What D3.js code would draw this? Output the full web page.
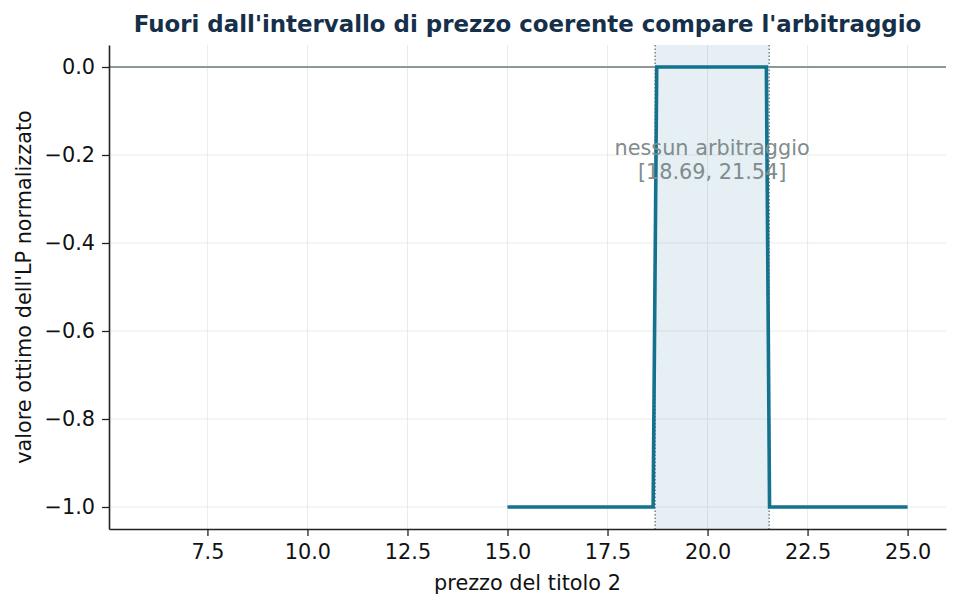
<!DOCTYPE html>
<html>
<head>
<meta charset="utf-8">
<script src="https://cdn.jsdelivr.net/npm/d3@7"></script>
<style>
  body { margin: 0; background: #fff; }
  svg { font-family: "DejaVu Sans", sans-serif; }
</style>
</head>
<body>
<svg id="chart" width="960" height="608"></svg>
<script>
// prices of security 2 and the LP optimum sampled along them
const priceX = [15.0, 18.64, 18.73, 21.47, 21.55, 25.0];
const lpValue = [-1, -1, 0, 0, -1, -1];
const noArbBounds = [18.69, 21.54];
const xTicks = [7.5, 10.0, 12.5, 15.0, 17.5, 20.0, 22.5, 25.0];
const yTicks = [0.0, -0.2, -0.4, -0.6, -0.8, -1.0];

const width = 960, height = 608;
const margin = { top: 45, right: 14, bottom: 79, left: 109 };
const fontSize = '20.8px';

const svg = d3.select('#chart');

const x = d3.scaleLinear()
    .domain([5.04, 25.96])
    .range([margin.left, width - margin.right]);

const y = d3.scaleLinear()
    .domain([-1.05, 0.05])
    .range([height - margin.bottom, margin.top]);

// Grid
const grid = svg.append('g');
grid.selectAll('.gx')
    .data(xTicks)
    .enter().append('line')
    .attr('x1', d => x(d)).attr('x2', d => x(d))
    .attr('y1', margin.top).attr('y2', height - margin.bottom)
    .style('stroke', '#e6e6e6').style('stroke-width', 0.8);
grid.selectAll('.gy')
    .data(yTicks)
    .enter().append('line')
    .attr('x1', margin.left).attr('x2', width - margin.right)
    .attr('y1', d => y(d)).attr('y2', d => y(d))
    .style('stroke', '#e6e6e6').style('stroke-width', 0.8);

// No-arbitrage band
svg.append('rect')
    .attr('x', x(noArbBounds[0]))
    .attr('y', margin.top)
    .attr('width', x(noArbBounds[1]) - x(noArbBounds[0]))
    .attr('height', height - margin.bottom - margin.top)
    .style('fill', '#1a7090')
    .style('fill-opacity', 0.11);

svg.selectAll('.bound')
    .data(noArbBounds)
    .enter().append('line')
    .attr('x1', d => x(d)).attr('x2', d => x(d))
    .attr('y1', margin.top).attr('y2', height - margin.bottom)
    .style('stroke', '#6b7b80')
    .style('stroke-width', 1.4)
    .style('stroke-dasharray', '1.5,2');

// Zero line
svg.append('line')
    .attr('x1', margin.left).attr('x2', width - margin.right)
    .attr('y1', y(0)).attr('y2', y(0))
    .style('stroke', '#8c9899')
    .style('stroke-width', 1.8);

// LP value line
const line = d3.line()
    .x((d, i) => x(priceX[i]))
    .y(d => y(d));

svg.append('path')
    .datum(lpValue)
    .attr('d', line)
    .style('fill', 'none')
    .style('stroke', '#15728f')
    .style('stroke-width', 3.6);

// Annotation
const mid = (noArbBounds[0] + noArbBounds[1]) / 2;
const note = svg.append('text')
    .attr('x', x(mid))
    .attr('y', 155)
    .style('text-anchor', 'middle')
    .style('font-size', fontSize)
    .style('fill', '#7f8c8d');
note.append('tspan').attr('x', x(mid)).text('nessun arbitraggio');
note.append('tspan').attr('x', x(mid)).attr('dy', 23.5)
    .text(`[${noArbBounds[0].toFixed(2)}, ${noArbBounds[1].toFixed(2)}]`);

// Axes
const xAxis = svg.append('g')
    .attr('transform', `translate(0,${height - margin.bottom})`)
    .call(d3.axisBottom(x).tickValues(xTicks).tickFormat(d3.format('.1f'))
        .tickSizeInner(7).tickSizeOuter(0).tickPadding(8));

const yAxis = svg.append('g')
    .attr('transform', `translate(${margin.left},0)`)
    .call(d3.axisLeft(y).tickValues(yTicks).tickFormat(d3.format('.1f'))
        .tickSizeInner(7).tickSizeOuter(0).tickPadding(7));

[xAxis, yAxis].forEach(a => {
    a.attr('font-size', null).attr('font-family', null);
    a.select('.domain').style('stroke', '#222').style('stroke-width', 1.6);
    a.selectAll('.tick line').style('stroke', '#222').style('stroke-width', 1.3);
    a.selectAll('.tick text')
        .style('font-family', '"DejaVu Sans", sans-serif')
        .style('font-size', fontSize)
        .style('fill', '#111');
});

// Labels
svg.append('text')
    .attr('x', (margin.left + width - margin.right) / 2)
    .attr('y', 590)
    .style('text-anchor', 'middle')
    .style('font-size', fontSize)
    .style('fill', '#111')
    .text('prezzo del titolo 2');

svg.append('text')
    .attr('transform', `translate(31,${(margin.top + height - margin.bottom) / 2}) rotate(-90)`)
    .style('text-anchor', 'middle')
    .style('font-size', fontSize)
    .style('fill', '#111')
    .text("valore ottimo dell'LP normalizzato");

svg.append('text')
    .attr('x', (margin.left + width - margin.right) / 2)
    .attr('y', 32)
    .style('text-anchor', 'middle')
    .style('font-size', '22.9px')
    .style('font-weight', 'bold')
    .style('fill', '#16304a')
    .text("Fuori dall'intervallo di prezzo coerente compare l'arbitraggio");
</script>
</body>
</html>
